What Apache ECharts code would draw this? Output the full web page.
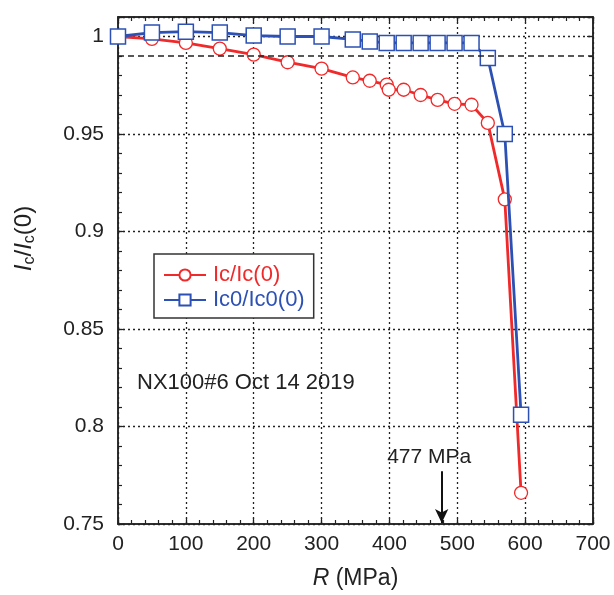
<!DOCTYPE html>
<html><head><meta charset="utf-8">
<script src="https://cdn.jsdelivr.net/npm/echarts@6/dist/echarts.min.js"></script>
<style>html,body{margin:0;padding:0;background:#fff}#c{width:614px;height:595px}</style>
</head><body><div id="c"></div>
<script>
const redX = [0,50,100,150,200,250,300,346,371,396,399,421,446,471,496,521,545,570,594];
const redY = [1.0,0.9988,0.9967,0.9938,0.9907,0.9868,0.9835,0.979,0.9773,0.9753,0.9727,0.9727,0.970,0.9675,0.9655,0.965,0.9557,0.9165,0.766];
const blueX = [0,50,100,150,200,250,300,346,371,396,421,446,471,496,521,545,570,594];
const blueY = [1.0,1.002,1.0025,1.002,1.0005,1.0,1.0,0.9985,0.9975,0.9967,0.9967,0.9967,0.9967,0.9967,0.9967,0.989,0.95,0.806];
const xTicks = [0,100,200,300,400,500,600,700];
const yTicks = [0.75,0.8,0.85,0.9,0.95,1];
const refLineY = 0.99;
const arrowX = 477;
const arrowTop = 0.777;
const noteText = 'NX100#6 Oct 14 2019';

const RED = '#f02a2a', BLUE = '#2c50b4', INK = '#222';
const FONT = 'Liberation Sans';
const chart = echarts.init(document.getElementById('c'), null, {renderer:'canvas'});
const dotted = {type:[2,3], color:INK, width:1.3};
const zip = (a,b)=>a.map((v,i)=>[v,b[i]]);

function tickAxis(kind, pos, interval, len, extra){
  const base = kind==='x' ? {min:0, max:700} : {min:0.75, max:1.01};
  return Object.assign({type:'value', position:pos, interval:interval, offset:0,
    axisLine:{show:true, onZero:false, lineStyle:{color:INK, width:1.5}},
    axisTick:{show:true, inside:true, length:len, lineStyle:{color:INK, width:1.2}},
    axisLabel:{show:false}, splitLine:{show:false}, minorTick:{show:false}}, base, extra||{});
}

chart.setOption({
  animation:false,
  textStyle:{fontFamily:FONT},
  grid:{left:118, right:21, top:17, bottom:71, containLabel:false},
  xAxis:[
    tickAxis('x','bottom',100,6,{
      name:'{i|R} (MPa)', nameLocation:'middle', nameGap:43,
      nameTextStyle:{fontSize:23, color:INK, fontFamily:FONT, rich:{i:{fontStyle:'italic', fontSize:23, fontFamily:FONT, color:INK}}},
      axisLabel:{show:true, fontSize:21, color:INK, margin:10, fontFamily:FONT},
      splitLine:{show:true, lineStyle:dotted}}),
    tickAxis('x','top',100,6),
    tickAxis('x','bottom',20,4),
    tickAxis('x','top',20,4)
  ],
  yAxis:[
    tickAxis('y','left',0.05,6,{
      name:'{i|I}{s|c}/{i|I}{s|c}(0)', nameLocation:'middle', nameGap:80, nameRotate:90,
      nameTextStyle:{fontSize:24, color:INK, fontFamily:FONT, padding:[0,0,0,64],
        rich:{i:{fontStyle:'italic', fontSize:24, fontFamily:FONT, color:INK},
              s:{fontSize:16, fontFamily:FONT, color:INK, padding:[12,0,0,0]}}},
      axisLabel:{show:true, fontSize:21, color:INK, margin:14, fontFamily:FONT,
        formatter:v=>yTicks.some(t=>Math.abs(t-v)<1e-6)?String(+v.toFixed(2)):''},
      splitLine:{show:true, lineStyle:dotted}}),
    tickAxis('y','right',0.05,6),
    tickAxis('y','left',0.01,4),
    tickAxis('y','right',0.01,4)
  ],
  legend:{
    left:154, top:254, orient:'vertical', itemWidth:42, itemHeight:14, itemGap:3,
    padding:[10,9,7,9], borderColor:'#333', borderWidth:1.5, backgroundColor:'#fff',
    textStyle:{fontSize:22, fontFamily:FONT, padding:[0,0,0,2]},
    data:[{name:'Ic/Ic(0)', textStyle:{color:RED}}, {name:'Ic0/Ic0(0)', textStyle:{color:BLUE}}]
  },
  series:[
    {name:'Ic/Ic(0)', type:'line', data:zip(redX,redY), symbol:'circle', symbolSize:13,
      lineStyle:{color:RED, width:2.8}, itemStyle:{color:'#fff', borderColor:RED, borderWidth:1.3}, z:3,
      markLine:{silent:true, symbol:['none','none'], animation:false,
        data:[[{coord:[0,refLineY], lineStyle:{type:[6,4], color:INK, width:1.5}, label:{show:false}},{coord:[700,refLineY]}]]}},
    {name:'Ic0/Ic0(0)', type:'line', data:zip(blueX,blueY), symbol:'rect', symbolSize:15,
      lineStyle:{color:BLUE, width:2.8}, itemStyle:{color:'#fff', borderColor:BLUE, borderWidth:1.5}, z:4,
      markLine:{silent:true, animation:false,
        data:[[{coord:[arrowX,arrowTop], symbol:'none', lineStyle:{type:'solid', color:'#111', width:2},
               label:{show:true, position:'start', formatter:arrowX+' MPa', fontSize:21, color:INK, fontFamily:FONT, distance:4, padding:[0,25,0,0]}},
              {coord:[arrowX,0.7505], symbol:'arrow', symbolSize:[10,14]}]]}}
  ],
  graphic:[{type:'text', left:137, top:372, style:{text:noteText, fontSize:22, fontFamily:FONT, fill:INK}}]
});
</script></body></html>
